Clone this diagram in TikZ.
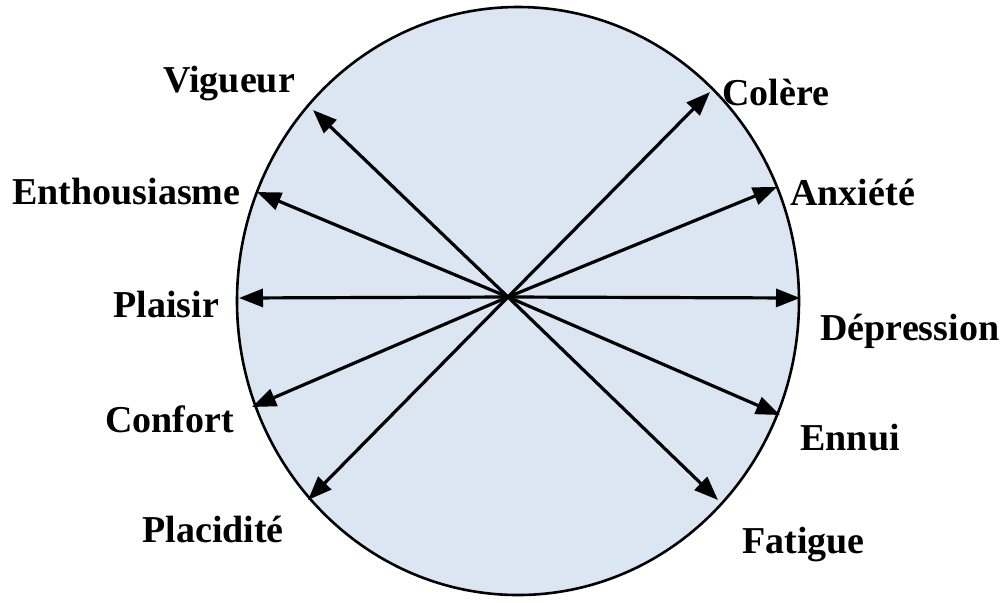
\documentclass[tikz,border=0pt]{standalone}
\usepackage{fontspec}
\setmainfont{Liberation Serif}
\usetikzlibrary{arrows.meta}

\definecolor{circfill}{RGB}{220,230,242}

\begin{document}
\begin{tikzpicture}[
  x=0.5pt, y=-0.5pt,
  every node/.style={font=\fontsize{19}{22}\selectfont\bfseries, inner sep=0pt, anchor=base west},
  spoke/.style={draw, line width=1.6pt, -{Triangle[length=12pt, width=9pt]}}
]
\useasboundingbox (0,0) rectangle (1003,602);
\draw[line width=1.3pt, fill=circfill] (518,301) ellipse [x radius=140.5pt, y radius=147pt];

\coordinate (hub) at (508,297);
\coordinate (vig) at (313,110);
\coordinate (col) at (710,92);
\coordinate (ent) at (257,192);
\coordinate (anx) at (777,187);
\coordinate (pla) at (239,298);
\coordinate (dep) at (800,298);
\coordinate (con) at (252,407);
\coordinate (enn) at (780,415);
\coordinate (plc) at (308,500);
\coordinate (fat) at (718,500);

\path[spoke] (hub) -- (vig);
\path[spoke] (hub) -- (col);
\path[spoke] (hub) -- (ent);
\path[spoke] (hub) -- (anx);
\path[spoke] (hub) -- (pla);
\path[spoke] (hub) -- (dep);
\path[spoke] (hub) -- (con);
\path[spoke] (hub) -- (enn);
\path[spoke] (hub) -- (plc);
\path[spoke] (hub) -- (fat);

\node (vigueur) at (163,92) {Vigueur};
\node (colere) at (722,105) {Colère};
\node (enthou) at (12,204) {Enthousiasme};
\node (anxiete) at (790,205) {Anxiété};
\node (plaisir) at (113,317) {Plaisir};
\node (depress) at (820,340) {Dépression};
\node (confort) at (105,432) {Confort};
\node (ennui) at (800,450) {Ennui};
\node (placid) at (142,542) {Placidité};
\node (fatigue) at (742,553) {Fatigue};
\end{tikzpicture}
\end{document}
